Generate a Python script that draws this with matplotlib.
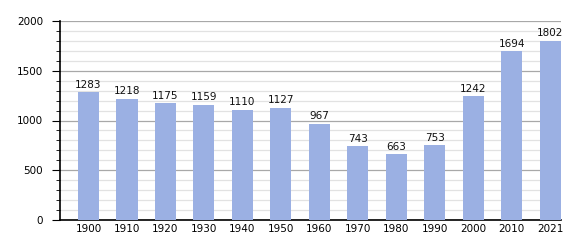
import matplotlib
matplotlib.use('Agg')
import matplotlib.pyplot as plt
from matplotlib.ticker import MultipleLocator

# population by census year
years = ['1900', '1910', '1920', '1930', '1940', '1950', '1960',
         '1970', '1980', '1990', '2000', '2010', '2021']
population = [1283, 1218, 1175, 1159, 1110, 1127, 967,
              743, 663, 753, 1242, 1694, 1802]

fig = plt.figure(figsize=(5.8, 2.5), dpi=100)
ax = fig.add_axes([0.1034, 0.12, 0.8636, 0.796])

x = range(len(years))
bars = ax.bar(x, population, width=0.55, color='#9bb0e3', zorder=3)
for b, v in zip(bars, population):
    ax.text(b.get_x() + b.get_width() / 2, v + 25, str(v),
            ha='center', va='bottom', fontsize=7.5, color='#111111')

ax.set_xlim(-0.74, len(years) - 1 + 0.275)
ax.set_ylim(0, 2000)
ax.set_xticks(list(x))
ax.set_xticklabels(years)
ax.yaxis.set_major_locator(MultipleLocator(500))
ax.yaxis.set_minor_locator(MultipleLocator(100))
ax.grid(which='major', axis='y', color='#a8a8a8', linewidth=0.9, zorder=1)
ax.grid(which='minor', axis='y', color='#e2e2e2', linewidth=0.9, zorder=1)

ax.tick_params(axis='x', length=0, labelsize=7.5, pad=3)
ax.tick_params(axis='y', which='major', length=6, labelsize=7.5, direction='out', pad=6)
ax.tick_params(axis='y', which='minor', length=3, direction='out')
for s in ['top', 'right']:
    ax.spines[s].set_visible(False)
ax.spines['left'].set_linewidth(1.2)
ax.spines['bottom'].set_linewidth(1.2)

plt.savefig('out.png', dpi=100)
